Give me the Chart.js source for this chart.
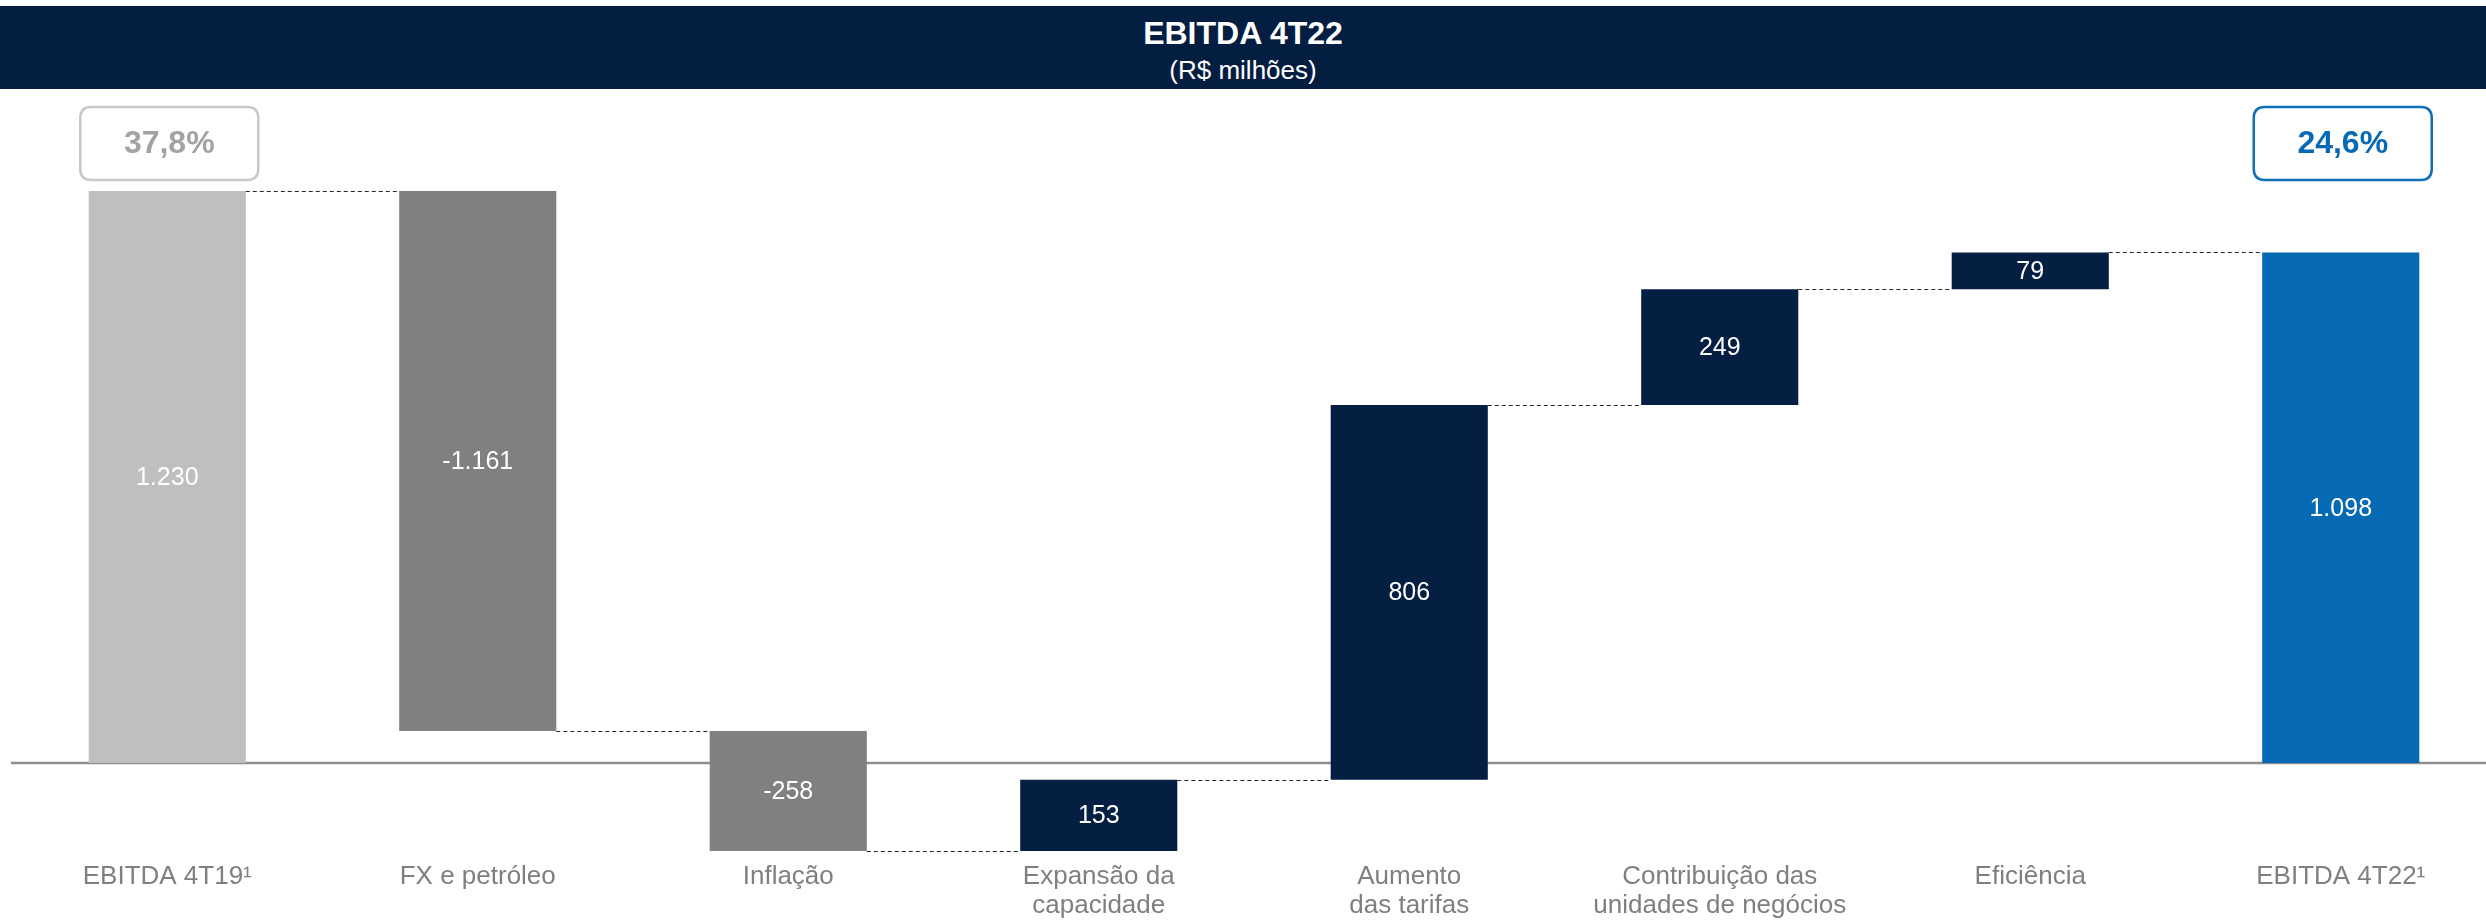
<!DOCTYPE html>
<html>
<head>
<meta charset="utf-8">
<script src="https://cdn.jsdelivr.net/npm/chart.js@4"></script>
<style>
  html, body { margin:0; padding:0; background:#ffffff; overflow:hidden; width:2486px; height:921px; }
  #wrap { position:relative; width:2486px; height:921px; overflow:hidden; }
  #hdr { position:absolute; left:0; top:6px; width:2486px; height:83px; background:#041E42; color:#ffffff;
         font-family:"Liberation Sans", Arial, sans-serif; text-align:center; }
  #t1 { position:absolute; left:0; right:0; top:11px; font-size:32px; line-height:32px; font-weight:bold; }
  #t2 { position:absolute; left:0; right:0; top:51px; font-size:26px; line-height:26px; }
  #c { position:absolute; left:0; top:0; }
</style>
</head>
<body>
<div id="wrap">
  <div id="hdr"><div id="t1">EBITDA 4T22</div><div id="t2">(R$ milhões)</div></div>
  <canvas id="c" width="2496" height="921"></canvas>
</div>
<script>
// ---- data ----
const categories = [
  ["EBITDA 4T19¹"],
  ["FX e petróleo"],
  ["Inflação"],
  ["Expansão da", "capacidade"],
  ["Aumento", "das tarifas"],
  ["Contribuição das", "unidades de negócios"],
  ["Eficiência"],
  ["EBITDA 4T22¹"]
];
const values      = [1230, -1161, -258, 153, 806, 249, 79, 1098];
const valueLabels = ["1.230", "-1.161", "-258", "153", "806", "249", "79", "1.098"];
const barKinds    = ["total", "delta", "delta", "delta", "delta", "delta", "delta", "total"];
const marginLabels = ["37,8%", "24,6%"];

// ---- styles ----
const FONT = '"Liberation Sans", Arial, sans-serif';
const COLOR_START = '#BFBFBF';
const COLOR_END = '#0669B4';
const COLOR_NEG = '#808080';
const COLOR_POS = '#051F42';

// floating ranges from the values
let run = 0;
const ranges = [];
const levels = [];
values.forEach((v, i) => {
  if (barKinds[i] === 'total') { ranges.push([0, v]); run = v; }
  else { ranges.push([run, run + v]); run += v; }
  levels.push(run);
});
const colors = values.map((v, i) => {
  if (barKinds[i] === 'total') return i === 0 ? COLOR_START : COLOR_END;
  return v < 0 ? COLOR_NEG : COLOR_POS;
});

const baselinePlugin = {
  id: 'baseline',
  beforeDatasetsDraw(chart) {
    const ctx = chart.ctx;
    const y = chart.scales.y.getPixelForValue(0);
    ctx.save();
    ctx.strokeStyle = '#8E8E8E';
    ctx.lineWidth = 2.5;
    ctx.beginPath();
    ctx.moveTo(11, y);
    ctx.lineTo(chart.width, y);
    ctx.stroke();
    ctx.restore();
  }
};

function roundRectPath(ctx, x, y, w, h, r) {
  ctx.beginPath();
  ctx.moveTo(x + r, y);
  ctx.lineTo(x + w - r, y);
  ctx.quadraticCurveTo(x + w, y, x + w, y + r);
  ctx.lineTo(x + w, y + h - r);
  ctx.quadraticCurveTo(x + w, y + h, x + w - r, y + h);
  ctx.lineTo(x + r, y + h);
  ctx.quadraticCurveTo(x, y + h, x, y + h - r);
  ctx.lineTo(x, y + r);
  ctx.quadraticCurveTo(x, y, x + r, y);
  ctx.closePath();
}

const overlayPlugin = {
  id: 'overlay',
  afterDatasetsDraw(chart) {
    const ctx = chart.ctx;
    const meta = chart.getDatasetMeta(0);
    const ys = chart.scales.y;
    ctx.save();
    // connectors
    ctx.strokeStyle = '#262626';
    ctx.lineWidth = 1;
    ctx.setLineDash([4, 3]);
    for (let i = 0; i < meta.data.length - 1; i++) {
      const a = meta.data[i], b = meta.data[i + 1];
      const y = Math.round(ys.getPixelForValue(levels[i])) + 0.5;
      ctx.beginPath();
      ctx.moveTo(a.x + a.width / 2, y);
      ctx.lineTo(b.x - b.width / 2, y);
      ctx.stroke();
    }
    ctx.setLineDash([]);
    // value labels
    ctx.fillStyle = '#FFFFFF';
    ctx.font = '25px ' + FONT;
    ctx.textAlign = 'center';
    ctx.textBaseline = 'middle';
    meta.data.forEach((el, i) => {
      ctx.fillText(valueLabels[i], el.x, (el.y + el.base) / 2 + 1);
    });
    // margin boxes
    const boxes = [
      { el: meta.data[0], text: marginLabels[0], border: '#C8C8C8', color: '#A3A3A3' },
      { el: meta.data[meta.data.length - 1], text: marginLabels[1], border: '#0F6FB8', color: '#0669B4' }
    ];
    boxes.forEach(b => {
      const w = 178, h = 73, top = 107;
      const cx = b.el.x + 2;
      roundRectPath(ctx, cx - w / 2, top, w, h, 11);
      ctx.fillStyle = '#FFFFFF';
      ctx.fill();
      ctx.strokeStyle = b.border;
      ctx.lineWidth = 2.5;
      ctx.stroke();
      ctx.fillStyle = b.color;
      ctx.font = 'bold 32px ' + FONT;
      ctx.fillText(b.text, cx, top + h / 2 + 1);
    });
    ctx.restore();
  }
};

new Chart(document.getElementById('c'), {
  type: 'bar',
  data: {
    labels: categories,
    datasets: [{
      data: ranges,
      backgroundColor: colors,
      borderWidth: 0,
      barPercentage: 0.506,
      categoryPercentage: 1.0
    }]
  },
  options: {
    responsive: false,
    animation: false,
    layout: { padding: { left: 12, right: 0, top: 112, bottom: 0 } },
    plugins: { legend: { display: false }, tooltip: { enabled: false }, title: { display: false } },
    scales: {
      x: {
        grid: { display: false, drawTicks: false },
        border: { display: false },
        ticks: {
          color: '#7F7F7F',
          font: { family: FONT, size: 26, lineHeight: 1.1 },
          padding: 7,
          maxRotation: 0,
          minRotation: 0,
          autoSkip: false
        },
        afterFit(scale) { scale.height = 65; }
      },
      y: { display: false, min: -200, max: 1400 }
    }
  },
  plugins: [baselinePlugin, overlayPlugin]
});
</script>
</body>
</html>
